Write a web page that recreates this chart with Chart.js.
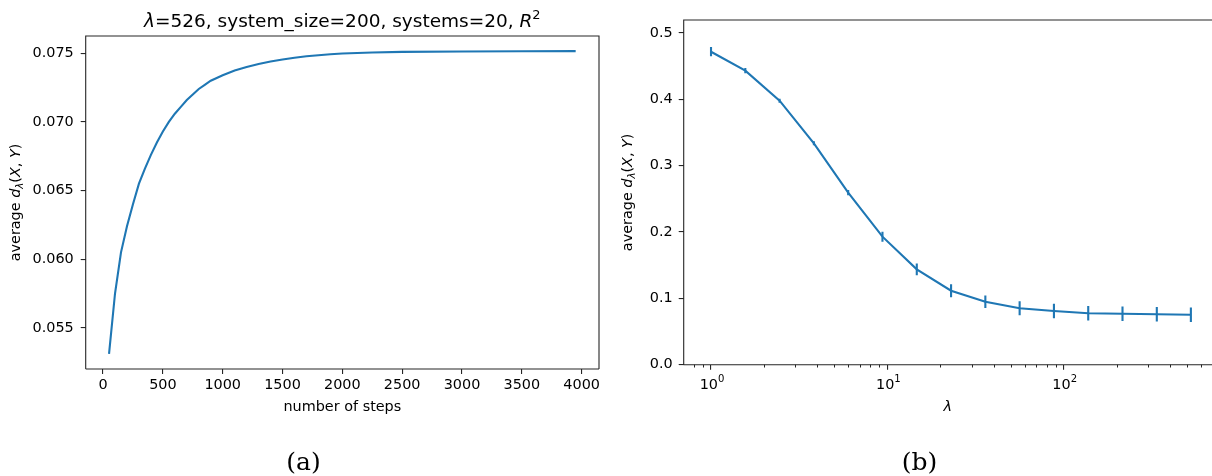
<!DOCTYPE html>
<html><head><meta charset="utf-8">
<script src="https://cdn.jsdelivr.net/npm/chart.js@4.4.0/dist/chart.umd.min.js"></script>
<style>
html,body{margin:0;padding:0;background:#fff;overflow:hidden;width:1212px;height:476px;}
.wrap{position:absolute;top:0;width:606px;height:476px;}
#wa{left:0}#wb{left:606px}
.cap{position:absolute;top:449px;font-family:'DejaVu Serif';font-size:25px;line-height:1;color:#000;transform:translateX(-50%);white-space:nowrap;}
</style></head><body>
<div class="wrap" id="wa"><canvas id="ca" width="606" height="476"></canvas></div>
<div class="wrap" id="wb"><canvas id="cb" width="606" height="476"></canvas></div>
<div class="cap" style="left:303.5px">(a)</div>
<div class="cap" style="left:919.5px">(b)</div>
<script>
// ---- data: panel (a) ----
const stepsX   = [50,100,150,200,250,300,350,400,450,500,550,600,650,700,750,800,850,900,950,1000,1100,1200,1300,1400,1500,1600,1700,1800,1900,2000,2250,2500,3000,3500,3950];
const avgDist  = [0.0531,0.0575,0.0605,0.0624,0.0640,0.0655,0.0666,0.0676,0.0685,0.0693,0.0700,0.0706,0.0711,0.0716,0.0720,0.0724,0.0727,0.0730,0.0732,0.0734,0.07375,0.0740,0.07422,0.0744,0.07455,0.07468,0.07478,0.07486,0.07493,0.07498,0.07506,0.0751,0.07513,0.07515,0.07516];
const stepTicks = [0,500,1000,1500,2000,2500,3000,3500,4000];
const distTicks = [0.055,0.060,0.065,0.070,0.075];
// ---- data: panel (b) ----
const lambdas    = [1,1.565,2.448,3.831,5.994,9.379,14.68,22.97,35.94,56.23,87.99,137.7,215.4,337.1,526];
const lambdaDist = [0.4718,0.4432,0.398,0.3337,0.2593,0.193,0.1438,0.1115,0.095,0.085,0.081,0.0775,0.0769,0.0760,0.0754];
const lambdaErr  = [0.007,0.004,0.003,0.003,0.004,0.0075,0.0088,0.0098,0.0095,0.0105,0.011,0.011,0.011,0.011,0.011];
const lamMajor   = [1,10,100];
const lamMajorExp = ['0','1','2'];
const lamMinor   = [0.8,0.9,2,3,4,5,6,7,8,9,20,30,40,50,60,70,80,90,200,300,400,500,600];
const dTicks     = [0.0,0.1,0.2,0.3,0.4,0.5];

const BLUE = '#1f77b4';
const SPINE = '#262626';
const FONT = 'DejaVu Sans';
const FS = 14.4;

function rich(ctx, parts, x, y, size, rot){
  ctx.save(); ctx.translate(x,y); if(rot) ctx.rotate(-Math.PI/2);
  ctx.textBaseline='alphabetic'; ctx.textAlign='left'; ctx.fillStyle='#000';
  let w=0;
  const m=parts.map(p=>{const fs=size*(p.s||1); const f=(p.i?'italic ':'')+fs+'px "'+FONT+'"'; ctx.font=f; const pw=ctx.measureText(p.t).width; w+=pw; return {f,pw,p};});
  let cx=-w/2;
  m.forEach(o=>{ctx.font=o.f; ctx.fillText(o.p.t,cx,-(o.p.dy||0)*size); cx+=o.pw;});
  ctx.restore();
}
function framePlugin(drawRight){
  return {id:'frame'+(drawRight?'R':'N'), afterDraw(chart){
    const a=chart.chartArea, c=chart.ctx;
    c.save(); c.strokeStyle=SPINE; c.lineWidth=1.1; c.beginPath();
    c.moveTo(a.left,a.bottom); c.lineTo(a.left,a.top); c.lineTo(a.right+(drawRight?0:2),a.top);
    if(drawRight){c.lineTo(a.right,a.bottom);}
    c.moveTo(a.left,a.bottom); c.lineTo(a.right+(drawRight?0:2),a.bottom);
    c.stroke(); c.restore();
  }};
}
const yLabelParts=[{t:'average '},{t:'d',i:1},{t:'\u03bb',i:1,s:0.7,dy:-0.22},{t:'('},{t:'X',i:1},{t:', '},{t:'Y',i:1},{t:')'}];

function axisCommon(){
  return {
    grid:{drawOnChartArea:false,drawTicks:true,tickLength:5,color:SPINE,lineWidth:1.1},
    border:{display:false},
  };
}

// ---------- chart (a) ----------
new Chart(document.getElementById('ca'),{
  type:'line',
  data:{datasets:[{data:stepsX.map((x,i)=>({x:x,y:avgDist[i]})),borderColor:BLUE,borderWidth:2.1,pointRadius:0,tension:0,fill:false}]},
  options:{responsive:false,animation:false,devicePixelRatio:1,
    layout:{padding:{top:36,right:7,left:0,bottom:0}},
    plugins:{legend:{display:false},tooltip:{enabled:false},title:{display:false}},
    scales:{
      x:Object.assign(axisCommon(),{type:'linear',min:-145,max:4145,
        afterBuildTicks:s=>{s.ticks=stepTicks.map(v=>({value:v}));},
        afterFit:s=>{s.height=107;},
        ticks:{font:{family:FONT,size:FS},color:'#000',padding:3,maxRotation:0,autoSkip:false,callback:v=>String(v)}}),
      y:Object.assign(axisCommon(),{type:'linear',min:0.0520,max:0.07626,
        afterBuildTicks:s=>{s.ticks=distTicks.map(v=>({value:v}));},
        afterFit:s=>{s.width=85.7;},
        ticks:{font:{family:FONT,size:FS},color:'#000',padding:7,autoSkip:false,callback:v=>Number(v).toFixed(3)}})
    }
  },
  plugins:[framePlugin(true),{id:'txtA',afterDraw(chart){
    const c=chart.ctx,a=chart.chartArea,cx=(a.left+a.right)/2;
    rich(c,[{t:'\u03bb',i:1},{t:'=526, system_size=200, systems=20, '},{t:'R',i:1},{t:'2',s:0.7,dy:0.45}],cx,27.3,18.5,false);
    rich(c,[{t:'number of steps'}],cx,411,FS,false);
    rich(c,yLabelParts,19.5,(a.top+a.bottom)/2,FS,true);
  }}]
});

// ---------- chart (b) ----------
new Chart(document.getElementById('cb'),{
  type:'line',
  data:{datasets:[{data:lambdas.map((x,i)=>({x:x,y:lambdaDist[i]})),borderColor:BLUE,borderWidth:2.1,pointRadius:0,tension:0,fill:false}]},
  options:{responsive:false,animation:false,devicePixelRatio:1,
    layout:{padding:{top:20,right:0,left:0,bottom:0}},
    plugins:{legend:{display:false},tooltip:{enabled:false},title:{display:false}},
    scales:{
      x:Object.assign(axisCommon(),{type:'logarithmic',min:0.72,max:693,
        afterBuildTicks:s=>{s.ticks=lamMajor.map(v=>({value:v,major:true}));},
        afterFit:s=>{s.height=111.3;},
        ticks:{font:{family:FONT,size:FS},color:'#000',padding:5,maxRotation:0,autoSkip:false,
          callback:()=>''}}),
      y:Object.assign(axisCommon(),{type:'linear',min:0,max:0.5196,
        afterBuildTicks:s=>{s.ticks=dTicks.map(v=>({value:v}));},
        afterFit:s=>{s.width=77.7;},
        ticks:{font:{family:FONT,size:FS},color:'#000',padding:6,autoSkip:false,callback:v=>Number(v).toFixed(1)}})
    }
  },
  plugins:[framePlugin(false),{id:'errB',afterDatasetsDraw(chart){
    const c=chart.ctx,xs=chart.scales.x,ys=chart.scales.y,a=chart.chartArea;
    c.save(); c.strokeStyle=BLUE; c.lineWidth=2.1; c.beginPath();
    lambdas.forEach((l,i)=>{const px=xs.getPixelForValue(l);
      c.moveTo(px,ys.getPixelForValue(lambdaDist[i]-lambdaErr[i]));
      c.lineTo(px,ys.getPixelForValue(lambdaDist[i]+lambdaErr[i]));});
    c.stroke();
    c.strokeStyle=SPINE; c.lineWidth=1; c.beginPath();
    lamMinor.forEach(v=>{const px=Math.round(xs.getPixelForValue(v))+0.5; c.moveTo(px,a.bottom); c.lineTo(px,a.bottom+2.8);});
    c.stroke(); c.restore();
  },afterDraw(chart){
    const c=chart.ctx,a=chart.chartArea,xs=chart.scales.x;
    lamMajor.forEach((v,k)=>{
      rich(c,[{t:'10'},{t:lamMajorExp[k],s:0.7,dy:0.5}],xs.getPixelForValue(v)+1,389,FS,false);
    });
    rich(c,[{t:'\u03bb',i:1}],(a.left+a.right)/2,411,FS,false);
    rich(c,yLabelParts,25.5,(a.top+a.bottom)/2,FS,true);
  }}]
});
</script>
</body></html>
